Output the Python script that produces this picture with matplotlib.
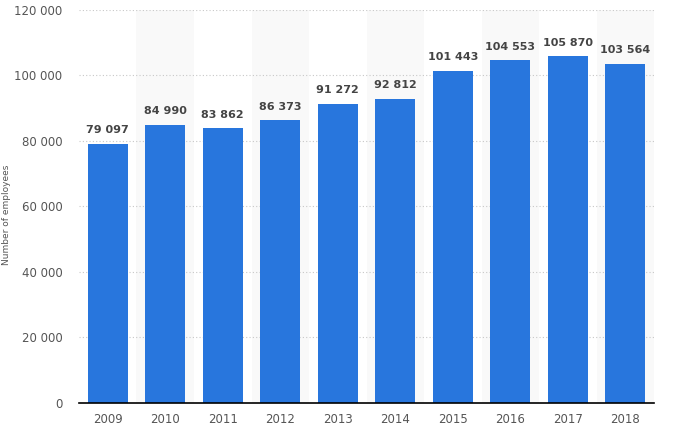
import matplotlib
matplotlib.use("Agg")
import matplotlib.pyplot as plt

years = ["2009", "2010", "2011", "2012", "2013", "2014", "2015", "2016", "2017", "2018"]
employees = [79097, 84990, 83862, 86373, 91272, 92812, 101443, 104553, 105870, 103564]
yticks = [0, 20000, 40000, 60000, 80000, 100000, 120000]

def fmt(v):
    return f"{v:,}".replace(",", " ")

fig = plt.figure(figsize=(6.75, 4.3), dpi=100)
ax = fig.add_axes([0.117, 0.063, 0.852, 0.914])

x = list(range(len(years)))
for i in x:
    if i % 2 == 1:
        ax.axvspan(i - 0.5, i + 0.5, color="#f9f9f9", zorder=0, lw=0)

ax.set_ylim(0, 120000)
ax.set_xlim(-0.5, len(years) - 0.5)
ax.set_yticks(yticks)
ax.set_yticklabels([fmt(v) for v in yticks])
for t in yticks[1:]:
    ax.axhline(t, color="#c8c8c8", lw=0.8, ls=(0, (1, 2)), zorder=1)

bars = ax.bar(x, employees, width=0.7, color="#2876dd", zorder=2)
for xi, v in zip(x, employees):
    ax.text(xi, v + 2600, fmt(v), ha="center", va="bottom", fontsize=8,
            fontweight="bold", color="#444444", zorder=3)

ax.set_xticks(x)
ax.set_xticklabels(years)
ax.tick_params(axis="both", length=0, labelsize=8.5, colors="#555555")
ax.tick_params(axis="y", pad=12)
ax.tick_params(axis="x", pad=7)
for s in ["top", "right", "left"]:
    ax.spines[s].set_visible(False)
ax.spines["bottom"].set_color("#000000")
ax.spines["bottom"].set_linewidth(1.2)
ax.spines["bottom"].set_zorder(4)

fig.text(0.009, 0.5, "Number of employees", rotation=90, va="center", ha="center",
         fontsize=6.5, color="#555555")

fig.savefig("out.png", dpi=100)
